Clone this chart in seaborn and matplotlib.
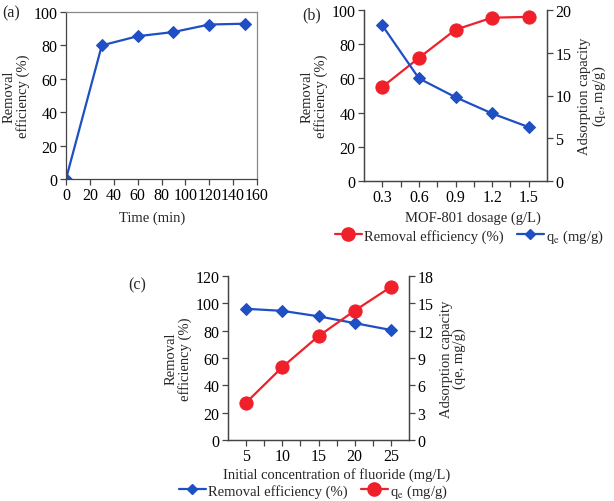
import matplotlib
matplotlib.use("Agg")
import numpy as np
import pandas as pd
import matplotlib.pyplot as plt
from matplotlib.lines import Line2D
import seaborn as sns

# ─────────────────────────────────────────────
# DATA
# ─────────────────────────────────────────────
time_min = [0, 30, 60, 90, 120, 150]
removal_time = [0, 80, 85.5, 88, 92.5, 93]

dosage = ["0.3", "0.6", "0.9", "1.2", "1.5"]
removal_dosage = [55, 72, 88.5, 95.5, 96]
qe_dosage = [18.2, 12.0, 9.8, 7.9, 6.3]

conc = ["5", "10", "15", "20", "25"]
removal_conc = [96, 94.5, 90.5, 85.5, 80.5]
qe_conc = [4.1, 8.0, 11.4, 14.2, 16.8]

BLUE = "#1f4fc4"
RED = "#f0202a"
FS = 10.5        # axis labels / legend
TFS = 11.5       # tick labels

sns.set_theme(style="white")
plt.rcParams["font.family"] = ["Liberation Serif", "DejaVu Serif"]
plt.rcParams["mathtext.fontset"] = "stix"
plt.rcParams["axes.edgecolor"] = "#444444"
plt.rcParams["axes.linewidth"] = 0.9

W, H = 614, 502
fig = plt.figure(figsize=(W / 100, H / 100), dpi=100)


def px_axes(left, top, right, bottom):
    return fig.add_axes([left / W, 1 - bottom / H, (right - left) / W, (bottom - top) / H])


def style_ticks(ax):
    ax.tick_params(axis="both", which="both", direction="out", labelsize=TFS,
                   colors="#444444", labelcolor="black", length=4, width=0.9,
                   left=True, bottom=True, pad=2)


def style_right(ax):
    ax.tick_params(axis="y", direction="out", labelsize=TFS, colors="#444444",
                   labelcolor="black", length=4, width=0.9, right=True, pad=2)


def categorical_x(ax, labels):
    ax.set_xlim(-0.5, len(labels) - 0.5)
    ax.set_xticks(range(len(labels)))
    ax.set_xticklabels(labels)
    ax.set_xticks(np.arange(0.5, len(labels) - 0.5, 1), minor=True)
    ax.tick_params(axis="x", which="major", length=0, pad=6)
    ax.tick_params(axis="x", which="minor", length=5, width=0.9, colors="#444444")


# ─────────────────────────────────────────────
# (a) removal vs time
# ─────────────────────────────────────────────
ax_a = px_axes(66, 13, 257, 180)
df_a = pd.DataFrame({"t": time_min, "r": removal_time})
sns.lineplot(data=df_a, x="t", y="r", ax=ax_a, color=BLUE, lw=1.6,
             marker="D", markersize=6.5, markeredgecolor=BLUE)
ax_a.set_xlim(0, 160)
ax_a.set_ylim(0, 100)
ax_a.set_xticks(range(0, 161, 20))
ax_a.set_yticks(range(0, 101, 20))
style_ticks(ax_a)
for s in ax_a.spines.values():
    s.set_color("#888888")
ax_a.spines["left"].set_color("#444444")
ax_a.spines["bottom"].set_color("#444444")
ax_a.set_xlabel("Time (min)", fontsize=FS, labelpad=3)
ax_a.xaxis.set_label_coords((152 - 66) / 191, -0.19)
ax_a.set_ylabel("Removal\nefficiency (%)", fontsize=FS, labelpad=3, linespacing=0.95)
fig.text(2 / W, 1 - 13 / H, "(a)", fontsize=FS + 1, va="center", ha="left")

# ─────────────────────────────────────────────
# (b) removal / qe vs dosage
# ─────────────────────────────────────────────
ax_b = px_axes(364, 11, 547, 182)
ax_b2 = ax_b.twinx()
df_b = pd.DataFrame({"d": dosage, "r": removal_dosage, "q": qe_dosage})
sns.lineplot(data=df_b, x="d", y="r", ax=ax_b, color=RED, lw=1.6,
             marker="o", markersize=9.5, markeredgecolor=RED, sort=False)
sns.lineplot(data=df_b, x="d", y="q", ax=ax_b2, color=BLUE, lw=1.6,
             marker="D", markersize=6, markeredgecolor=BLUE, sort=False)
ax_b.set_ylim(0, 100)
ax_b.set_yticks(range(0, 101, 20))
ax_b2.set_ylim(0, 20)
ax_b2.set_yticks(range(0, 21, 5))
categorical_x(ax_b, dosage)
style_ticks(ax_b)
style_right(ax_b2)
for a in (ax_b, ax_b2):
    a.spines["top"].set_visible(False)
    a.spines["right"].set_color("#444444")
ax_b.set_xlabel("MOF-801 dosage (g/L)", fontsize=FS, labelpad=2)
ax_b.xaxis.set_label_coords((473 - 364) / 183, -0.175)
ax_b.set_ylabel("Removal\nefficiency (%)", fontsize=FS, labelpad=3, linespacing=0.95)
ax_b2.set_ylabel("Adsorption capacity\n(q$_\\mathrm{e}$, mg/g)", fontsize=FS,
                 labelpad=5, linespacing=0.95)
fig.text(302 / W, 1 - 15 / H, "(b)", fontsize=FS + 1, va="center", ha="left")

leg_b = [
    Line2D([], [], color=RED, lw=1.6, marker="o", markersize=9.5, markeredgecolor=RED),
    Line2D([], [], color=BLUE, lw=1.6, marker="D", markersize=5.5, markeredgecolor=BLUE),
]
fig.legend(leg_b, ["Removal efficiency (%)", "q$_\\mathrm{e}$ (mg/g)"],
           loc="center", bbox_to_anchor=(469 / W, 1 - 237 / H), ncol=2,
           frameon=False, fontsize=FS, handlelength=1.9, handletextpad=0.1,
           columnspacing=0.9, borderpad=0)

# ─────────────────────────────────────────────
# (c) removal / qe vs initial concentration
# ─────────────────────────────────────────────
ax_c = px_axes(228, 277, 409, 441)
ax_c2 = ax_c.twinx()
df_c = pd.DataFrame({"c": conc, "r": removal_conc, "q": qe_conc})
sns.lineplot(data=df_c, x="c", y="r", ax=ax_c, color=BLUE, lw=1.6,
             marker="D", markersize=6, markeredgecolor=BLUE, sort=False)
sns.lineplot(data=df_c, x="c", y="q", ax=ax_c2, color=RED, lw=1.6,
             marker="o", markersize=9.5, markeredgecolor=RED, sort=False)
ax_c.set_ylim(0, 120)
ax_c.set_yticks(range(0, 121, 20))
ax_c2.set_ylim(0, 18)
ax_c2.set_yticks(range(0, 19, 3))
categorical_x(ax_c, conc)
style_ticks(ax_c)
style_right(ax_c2)
for a in (ax_c, ax_c2):
    a.spines["top"].set_visible(False)
    a.spines["right"].set_color("#444444")
ax_c.set_xlabel("Initial concentration of fluoride (mg/L)", fontsize=FS, labelpad=2)
ax_c.xaxis.set_label_coords((337 - 228) / 181, -0.165)
ax_c.set_ylabel("Removal\nefficiency (%)", fontsize=FS, labelpad=3, linespacing=0.95)
ax_c2.set_ylabel("Adsorption capacity\n(qe, mg/g)", fontsize=FS,
                 labelpad=5, linespacing=0.95)
fig.text(128 / W, 1 - 285 / H, "(c)", fontsize=FS + 1, va="center", ha="left")

leg_c = [
    Line2D([], [], color=BLUE, lw=1.6, marker="D", markersize=5.5, markeredgecolor=BLUE),
    Line2D([], [], color=RED, lw=1.6, marker="o", markersize=9.5, markeredgecolor=RED),
]
fig.legend(leg_c, ["Removal efficiency (%)", "q$_\\mathrm{e}$ (mg/g)"],
           loc="center", bbox_to_anchor=(313 / W, 1 - 492 / H), ncol=2,
           frameon=False, fontsize=FS, handlelength=1.9, handletextpad=0.1,
           columnspacing=0.9, borderpad=0)

fig.savefig("out.png", dpi=100)
